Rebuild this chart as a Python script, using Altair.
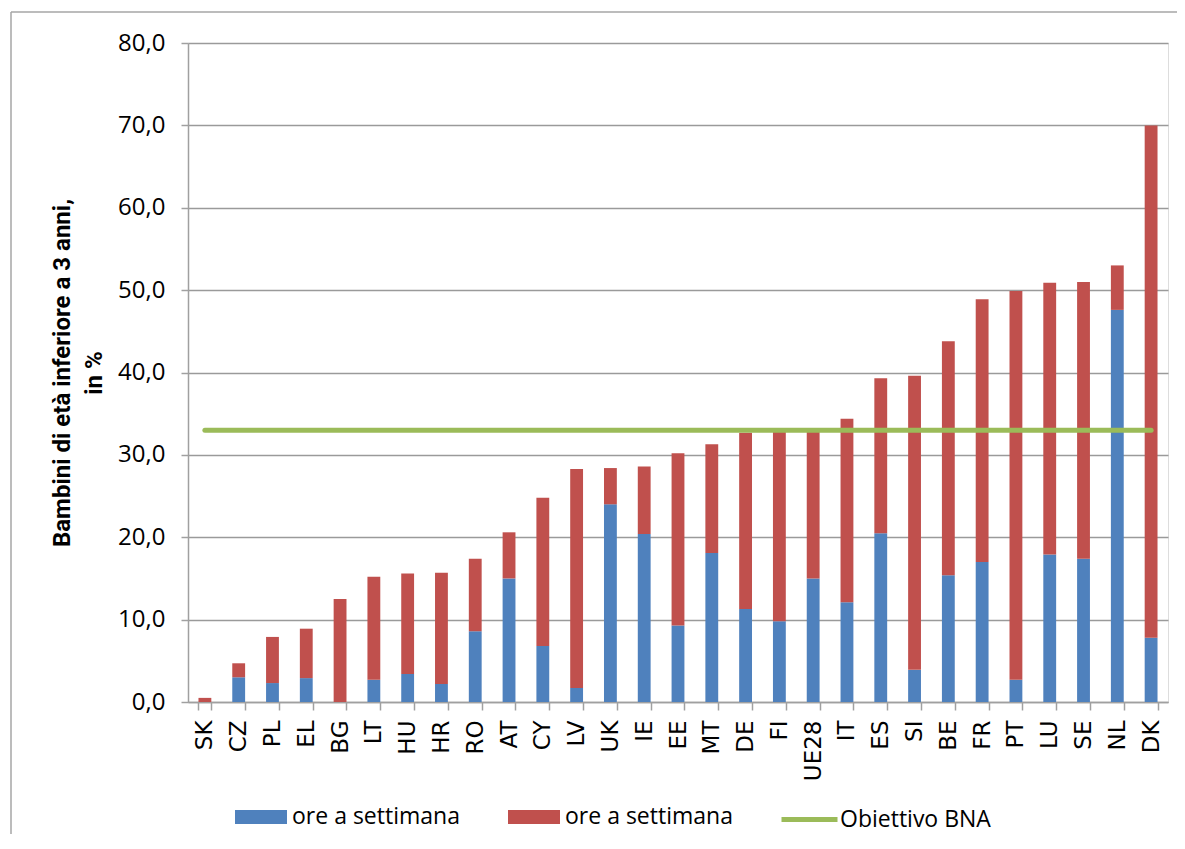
import altair as alt
import pandas as pd

# --- dati ---
categorie = ["SK", "CZ", "PL", "EL", "BG", "LT", "HU", "HR", "RO", "AT", "CY", "LV",
             "UK", "IE", "EE", "MT", "DE", "FI", "UE28", "IT", "ES", "SI", "BE", "FR",
             "PT", "LU", "SE", "NL", "DK"]
ore_blu = [0.0, 3.0, 2.3, 2.9, 0.0, 2.7, 3.4, 2.2, 8.6, 15.0, 6.8, 1.7,
           24.0, 20.4, 9.3, 18.1, 11.3, 9.8, 15.0, 12.1, 20.5, 3.9, 15.4, 17.0,
           2.7, 17.9, 17.4, 47.6, 7.8]
ore_rosso = [0.5, 1.7, 5.6, 6.0, 12.5, 12.5, 12.2, 13.5, 8.8, 5.6, 18.0, 26.6,
             4.4, 8.2, 20.9, 13.2, 21.4, 23.0, 18.0, 22.3, 18.8, 35.7, 28.4, 31.9,
             47.2, 33.0, 33.6, 5.4, 62.2]
obiettivo_bna = 33.0
y_ticks = [0, 10, 20, 30, 40, 50, 60, 70, 80]

serie_nomi = ["ore a settimana (1)", "ore a settimana (2)"]
nome_linea = "Obiettivo BNA"

BLU = "#4F81BD"
ROSSO = "#C0504D"
VERDE = "#9BBB59"
GRIGIO = "#a0a0a0"

rows = []
for c, b, r in zip(categorie, ore_blu, ore_rosso):
    rows.append({"paese": c, "serie": serie_nomi[0], "valore": b, "ordine": 0})
    rows.append({"paese": c, "serie": serie_nomi[1], "valore": r, "ordine": 1})
df_bars = pd.DataFrame(rows)
df_line = pd.DataFrame({"paese": categorie,
                        "valore": [obiettivo_bna] * len(categorie),
                        "nome": [nome_linea] * len(categorie)})

x_enc = alt.X("paese:N", sort=categorie,
              scale=alt.Scale(paddingInner=0.62, paddingOuter=0.31),
              axis=alt.Axis(title=None, labelAngle=270, labelFont="DejaVu Sans",
                            labelFontSize=23, labelColor="#000000", labelPadding=10,
                            tickBand="extent", tickSize=8, grid=False,
                            domainColor=GRIGIO, tickColor=GRIGIO,
                            domainWidth=1.5, tickWidth=1.5))

# simbolo rettangolare largo 52 px e alto 14 px, disegnato oltre l'ingombro nominale
SIMBOLO_RETT = "M-1,-0.54H3V0.54H-1Z"

bars = alt.Chart(df_bars).mark_bar().encode(
    x=x_enc,
    y=alt.Y("valore:Q", stack="zero",
            scale=alt.Scale(domain=[0, 80], nice=False),
            axis=alt.Axis(values=y_ticks, format=".1f",
                          labelExpr="replace(datum.label, '.', ',')",
                          labelFont="Open Sans", labelFontSize=24, labelColor="#000000",
                          labelPadding=16, tickSize=7, grid=True,
                          gridColor="#9a9a9a", gridWidth=1.4,
                          domainColor=GRIGIO, tickColor=GRIGIO,
                          domainWidth=1.5, tickWidth=1.5,
                          title=["Bambini di età inferiore a 3 anni,", "in %"],
                          titleFont="Roboto", titleFontSize=24,
                          titleFontWeight="bold", titleColor="#000000",
                          titleAngle=270, titleX=-126, titleY=329.5,
                          titleAlign="center", titleBaseline="middle",
                          titleLineHeight=32)),
    color=alt.Color("serie:N",
                    scale=alt.Scale(domain=serie_nomi, range=[BLU, ROSSO]),
                    legend=alt.Legend(title=None, orient="none", legendX=47, legendY=761,
                                      direction="horizontal", columnPadding=48,
                                      symbolType=SIMBOLO_RETT, symbolSize=676,
                                      symbolStrokeWidth=0, labelFont="Open Sans",
                                      labelFontSize=23, labelColor="#000000",
                                      labelOffset=31, labelLimit=400, padding=0,
                                      labelExpr="'ore a settimana'")),
    order=alt.Order("ordine:Q"),
)

line = alt.Chart(df_line).mark_line(strokeWidth=5, strokeCap="round").encode(
    x=alt.X("paese:N", sort=categorie),
    y=alt.Y("valore:Q"),
    stroke=alt.Stroke("nome:N",
                      scale=alt.Scale(domain=[nome_linea], range=[VERDE]),
                      legend=alt.Legend(title=None, orient="none", legendX=591, legendY=746,
                                        symbolType="stroke", symbolSize=3136,
                                        symbolStrokeWidth=5, labelFont="Open Sans",
                                        labelFontSize=23, labelColor="#000000",
                                        labelOffset=0, labelLimit=400, padding=0)),
)

# cornice del grafico (solo lati superiore e sinistro visibili)
bordo_sup = alt.Chart(alt.Data(values=[{}])).mark_rule(
    stroke="#a6a6a6", strokeWidth=1.5
).encode(x=alt.value(-177), x2=alt.value(1010), y=alt.value(-31))
bordo_sin = alt.Chart(alt.Data(values=[{}])).mark_rule(
    stroke="#a6a6a6", strokeWidth=1.5
).encode(x=alt.value(-177), y=alt.value(-31), y2=alt.value(830))

chart = alt.layer(bordo_sup, bordo_sin, bars, line).properties(
    width=980, height=659,
    autosize=alt.AutoSizeParams(type="none"),
    padding={"left": 180, "top": 35, "right": 9, "bottom": 132},
).configure_view(stroke=None).configure(background="transparent")

chart.save("out.html", embed_options={"renderer": "svg", "actions": False})
